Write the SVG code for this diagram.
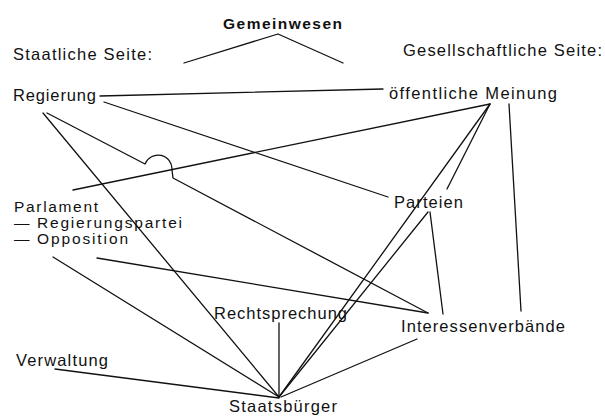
<svg xmlns="http://www.w3.org/2000/svg" width="605" height="416" viewBox="0 0 605 416">
<style>
.t{font-family:"Liberation Sans",Arial,"Helvetica",sans-serif;font-size:16.5px;fill:#111}
.s{font-size:15.5px}
.b{font-weight:bold;font-size:15.5px}
.c{fill:none;stroke:#111;stroke-width:1.3;stroke-linecap:round;stroke-linejoin:round}
</style>
<rect width="605" height="416" fill="#fff"/>
<g id="connectors" class="c">
<path d="M184,63 L278,34 L343,63"/>
<path d="M100,96 L383,89"/>
<path d="M104,102 L388,197"/>
<path d="M43,113 L279,397"/>
<path d="M47,113 L145,164 A14,14 0 0 1 172,170 L173,178 L428,313"/>
<path d="M73,190 L490,104"/>
<path d="M490,104 L279,397"/>
<path d="M490,104 L447,189"/>
<path d="M428,212 L279,397"/>
<path d="M430,212 L443,314"/>
<path d="M509,104 L521,311"/>
<path d="M97,258 L428,313"/>
<path d="M53,257 L279,397"/>
<path d="M55,369 L279,398"/>
<path d="M279,323 L279,397"/>
<path d="M417,339 L281,397"/>
</g>
<g id="gemeinwesen"><text class="t b" x="223" y="29" textLength="119" lengthAdjust="spacing">Gemeinwesen</text></g>
<g id="staatliche-seite"><text class="t" x="13" y="60" textLength="139" lengthAdjust="spacing">Staatliche Seite:</text></g>
<g id="gesellschaftliche-seite"><text class="t" x="403" y="56" textLength="199" lengthAdjust="spacing">Gesellschaftliche Seite:</text></g>
<g id="regierung"><text class="t" x="13" y="101" textLength="83" lengthAdjust="spacing">Regierung</text></g>
<g id="oeffentliche-meinung"><text class="t" x="389" y="99" textLength="168" lengthAdjust="spacing">öffentliche Meinung</text></g>
<g id="parlament">
<text class="t s" x="14" y="212" textLength="84" lengthAdjust="spacing">Parlament</text>
<text class="t s" y="228"><tspan x="14">—</tspan><tspan x="37" textLength="145" lengthAdjust="spacing">Regierungspartei</tspan></text>
<text class="t s" y="244"><tspan x="14">—</tspan><tspan x="37" textLength="91" lengthAdjust="spacing">Opposition</tspan></text>
</g>
<g id="parteien"><text class="t" x="394" y="208" textLength="69" lengthAdjust="spacing">Parteien</text></g>
<g id="rechtsprechung"><text class="t" x="214" y="319" textLength="133" lengthAdjust="spacing">Rechtsprechung</text></g>
<g id="interessenverbaende"><text class="t" x="401" y="332" textLength="164" lengthAdjust="spacing">Interessenverbände</text></g>
<g id="verwaltung"><text class="t" x="16" y="366" textLength="92" lengthAdjust="spacing">Verwaltung</text></g>
<g id="staatsbuerger"><text class="t" x="229" y="412" textLength="108" lengthAdjust="spacing">Staatsbürger</text></g>
</svg>
